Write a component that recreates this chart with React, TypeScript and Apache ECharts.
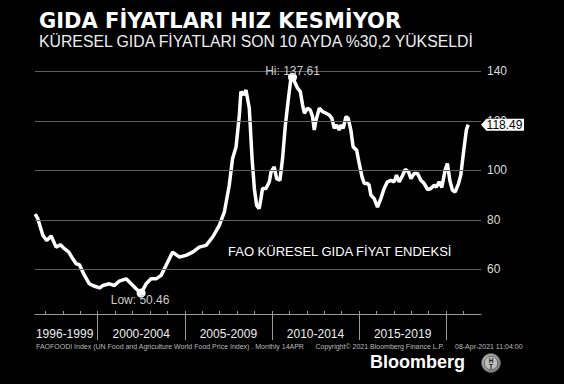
import React, { useEffect, useRef } from "react";
import * as echarts from "echarts";

// Decimal years (monthly-ish samples) and FAO index values
const years = [
  1996.41, 1996.56, 1996.85, 1997.07, 1997.33, 1997.61, 1997.86, 1998.09, 1998.34, 1998.57,
  1998.76, 1998.95, 1999.24, 1999.52, 1999.71, 2000.0, 2000.1, 2000.29, 2000.67, 2000.96,
  2001.24, 2001.63, 2001.92, 2002.2, 2002.49, 2002.78, 2003.06, 2003.35, 2003.64, 2003.92,
  2004.3, 2004.69, 2005.07, 2005.45, 2005.83, 2006.22, 2006.6, 2006.98, 2007.27, 2007.55,
  2007.74, 2007.94, 2008.13, 2008.22, 2008.37, 2008.51, 2008.7, 2008.86, 2008.99, 2009.12,
  2009.27, 2009.37, 2009.46, 2009.66, 2009.85, 2009.95, 2010.13, 2010.27, 2010.46, 2010.61,
  2010.77, 2010.95, 2011.09, 2011.18, 2011.34, 2011.47, 2011.63, 2011.76, 2011.86, 2012.04,
  2012.2, 2012.33, 2012.43, 2012.53, 2012.72, 2012.91, 2013.1, 2013.29, 2013.44, 2013.58,
  2013.71, 2013.86, 2013.96, 2014.09, 2014.25, 2014.38, 2014.53, 2014.66, 2014.86, 2015.01,
  2015.17, 2015.3, 2015.49, 2015.58, 2015.68, 2015.87, 2016.06, 2016.25, 2016.44, 2016.63,
  2016.83, 2017.02, 2017.15, 2017.3, 2017.46, 2017.65, 2017.84, 2017.98, 2018.17, 2018.35,
  2018.55, 2018.74, 2018.93, 2019.12, 2019.31, 2019.44, 2019.6, 2019.75, 2019.94, 2020.07,
  2020.21, 2020.36, 2020.52, 2020.71, 2020.84, 2020.99, 2021.16, 2021.26,
];
const values = [
  82.4, 80.5, 73.8, 71.7, 73.5, 69.0, 70.0, 68.4, 67.0, 64.3,
  62.3, 61.9, 57.6, 54.2, 53.5, 52.8, 52.5, 53.5, 54.2, 53.5,
  55.3, 56.2, 54.2, 52.2, 50.46, 54.2, 56.2, 56.2, 57.6, 61.6,
  67.0, 65.0, 65.7, 67.0, 69.0, 69.7, 73.1, 77.8, 83.2, 94.0,
  104.8, 109.5, 122.4, 131.8, 130.5, 132.5, 125.1, 104.8, 92.7, 85.9,
  84.6, 88.6, 92.7, 92.7, 95.4, 99.4, 101.4, 96.7, 96.0, 104.8,
  118.3, 129.3, 137.2, 137.61, 135.2, 133.2, 131.8, 126.4, 123.1, 125.1,
  124.4, 121.7, 116.3, 120.3, 125.1, 123.7, 123.1, 122.4, 121.0, 117.0,
  118.3, 116.3, 118.3, 117.0, 121.7, 121.0, 116.3, 109.5, 108.2, 102.8,
  97.4, 94.7, 94.7, 94.0, 90.0, 88.6, 85.2, 88.6, 92.7, 95.4,
  96.0, 95.4, 98.1, 95.4, 97.4, 100.4, 99.4, 96.7, 98.8, 98.8,
  96.0, 94.7, 92.3, 92.7, 94.0, 93.3, 95.4, 93.1, 100.1, 102.8,
  96.0, 92.0, 91.3, 94.7, 98.1, 106.9, 116.3, 118.49,
];

const yGridValues = [60, 80, 100, 120, 140];
const yearTicks = [
  1997, 1998, 1999, 2000, 2001, 2002, 2003, 2004, 2005, 2006, 2007, 2008, 2009,
  2010, 2011, 2012, 2013, 2014, 2015, 2016, 2017, 2018, 2019, 2020, 2021,
];
const periodBounds = [2000, 2005, 2010, 2015, 2020];
const periodCenters = [1998.1, 2002.5, 2007.5, 2012.5, 2017.5];
const periodLabels = ["1996-1999", "2000-2004", "2005-2009", "2010-2014", "2015-2019"];

const FONT = "'Liberation Sans', Arial, sans-serif";

export default function App() {
  const ref = useRef<HTMLDivElement>(null);

  useEffect(() => {
    if (!ref.current) return;
    const chart = echarts.init(ref.current, undefined, { renderer: "svg" });

    const seriesData = years.map((y, i) => [y, values[i]]);
    let hiIdx = 0;
    let loIdx = 0;
    values.forEach((v, i) => {
      if (v > values[hiIdx]) hiIdx = i;
      if (v < values[loIdx]) loIdx = i;
    });
    const lastIdx = values.length - 1;

    const option: any = {
      animation: false,
      backgroundColor: "#000",
      textStyle: { fontFamily: FONT },
      grid: { left: 35, right: 83, top: 59, bottom: 70 },
      xAxis: [
        {
          type: "value",
          min: 1996.4,
          max: 2022,
          axisLine: { show: true, lineStyle: { color: "#9a9a9a", width: 1 } },
          axisTick: {
            show: true,
            inside: true,
            length: 3,
            customValues: yearTicks,
            lineStyle: { color: "#9a9a9a" },
          },
          axisLabel: { show: false },
          splitLine: { show: false },
        },
        {
          type: "value",
          min: 1996.4,
          max: 2022,
          position: "bottom",
          offset: 0,
          axisLine: { show: false },
          axisTick: {
            show: true,
            length: 26,
            customValues: periodBounds,
            lineStyle: { color: "#9a9a9a" },
          },
          axisLabel: {
            show: true,
            customValues: periodCenters,
            formatter: (v: number) => {
              const i = periodCenters.findIndex((c) => Math.abs(c - v) < 0.01);
              return i >= 0 ? periodLabels[i] : "";
            },
            color: "#eeeeee",
            fontSize: 12,
            fontFamily: FONT,
            margin: 14,
          },
          splitLine: { show: false },
        },
      ],
      yAxis: {
        type: "value",
        position: "right",
        min: 42,
        max: 145,
        axisLine: { show: false },
        axisTick: { show: false, customValues: yGridValues },
        axisLabel: {
          customValues: yGridValues,
          color: "#dddddd",
          fontSize: 12,
          fontFamily: FONT,
          margin: 6,
        },
        splitLine: { show: false },
      },
      series: [
        {
          type: "line",
          data: [],
          z: 1,
          silent: true,
          markLine: {
            silent: true,
            symbol: "none",
            label: { show: false },
            lineStyle: { color: "#606060", width: 1, type: "solid" },
            data: yGridValues.map((v) => ({ yAxis: v })),
          },
        },
        {
          type: "line",
          data: seriesData,
          z: 3,
          showSymbol: false,
          symbol: "none",
          lineStyle: { color: "#ffffff", width: 3.5 },
          markPoint: {
            silent: true,
            data: [
              {
                coord: [years[hiIdx], values[hiIdx]],
                symbol: "circle",
                symbolSize: 9,
                itemStyle: { color: "#ffffff" },
                label: {
                  show: true,
                  position: "inside",
                  offset: [0, -6.5],
                  formatter: "Hi: " + values[hiIdx].toFixed(2),
                  color: "#cccccc",
                  fontSize: 12,
                  fontFamily: FONT,
                },
              },
              {
                coord: [years[loIdx], values[loIdx]],
                symbol: "circle",
                symbolSize: 9,
                itemStyle: { color: "#ffffff" },
                label: {
                  show: true,
                  position: "inside",
                  offset: [-1, 7],
                  formatter: "Low: " + values[loIdx].toFixed(2),
                  color: "#cccccc",
                  fontSize: 12,
                  fontFamily: FONT,
                },
              },
              {
                coord: [2022, values[lastIdx]],
                symbol: "path://M0,6L6,0L48,0L48,12L6,12Z",
                symbolSize: [43, 12],
                symbolKeepAspect: false,
                symbolOffset: ["50%", 0],
                itemStyle: { color: "#ffffff" },
                label: {
                  show: true,
                  position: "inside",
                  offset: [2, 0],
                  formatter: values[lastIdx].toFixed(2),
                  color: "#000000",
                  fontSize: 12,
                  fontFamily: FONT,
                },
              },
            ],
          },
        },
      ],
      graphic: [
        {
          type: "text",
          x: 39,
          y: 20.5,
          style: {
            text: "GIDA FİYATLARI HIZ KESMİYOR",
            fill: "#ffffff",
            fontSize: 21,
            fontWeight: "bold",
            fontFamily: "'DejaVu Sans', sans-serif",
            verticalAlign: "middle",
            align: "left",
          },
        },
        {
          type: "text",
          x: 39,
          y: 41,
          scaleX: 0.93,
          style: {
            text: "KÜRESEL GIDA FİYATLARI SON 10 AYDA %30,2 YÜKSELDİ",
            fill: "#eeeeee",
            fontSize: 17,
            fontFamily: FONT,
            verticalAlign: "middle",
            align: "left",
          },
        },
        {
          type: "text",
          x: 228,
          y: 251,
          style: {
            text: "FAO KÜRESEL GIDA FİYAT ENDEKSİ",
            fill: "#ffffff",
            fontSize: 13,
            fontFamily: FONT,
            verticalAlign: "middle",
            align: "left",
          },
        },
        {
          type: "text",
          x: 36,
          y: 346,
          style: {
            text: "FAOFOODI Index (UN Food and Agriculture World Food Price Index) . Monthly 14APR",
            fill: "#bbbbbb",
            fontSize: 7,
            fontFamily: FONT,
            verticalAlign: "middle",
          },
        },
        {
          type: "text",
          x: 315.5,
          y: 346,
          style: {
            text: "Copyright© 2021 Bloomberg Finance L.P.",
            fill: "#bbbbbb",
            fontSize: 7,
            fontFamily: FONT,
            verticalAlign: "middle",
          },
        },
        {
          type: "text",
          x: 455,
          y: 346,
          style: {
            text: "08-Apr-2021 11:04:00",
            fill: "#bbbbbb",
            fontSize: 7,
            fontFamily: FONT,
            verticalAlign: "middle",
          },
        },
        {
          type: "text",
          x: 370,
          y: 361.5,
          style: {
            text: "Bloomberg",
            fill: "#ffffff",
            fontSize: 18,
            fontWeight: "bold",
            fontFamily: FONT,
            verticalAlign: "middle",
          },
        },
        {
          type: "circle",
          shape: { cx: 491, cy: 363, r: 9.5 },
          style: {
            fill: new echarts.graphic.RadialGradient(0.4, 0.4, 0.7, [
              { offset: 0, color: "#e0e0e0" },
              { offset: 1, color: "#707070" },
            ]),
            stroke: "#555",
            lineWidth: 1,
          },
        },
        {
          type: "circle",
          shape: { cx: 491, cy: 363, r: 6.8 },
          style: { fill: "#bdbdbd", stroke: "#444", lineWidth: 0.8 },
        },
        {
          type: "text",
          x: 491,
          y: 360,
          style: {
            text: "H",
            fill: "#222",
            fontSize: 6.5,
            fontWeight: "bold",
            fontFamily: FONT,
            align: "center",
            verticalAlign: "middle",
          },
        },
        {
          type: "text",
          x: 491,
          y: 366.3,
          style: {
            text: "T",
            fill: "#222",
            fontSize: 6.5,
            fontWeight: "bold",
            fontFamily: FONT,
            align: "center",
            verticalAlign: "middle",
          },
        },
      ],
    };

    chart.setOption(option);
    return () => chart.dispose();
  }, []);

  return (
    <div
      ref={ref}
      style={{ position: "fixed", left: 0, top: 0, width: 564, height: 384 }}
    />
  );
}
